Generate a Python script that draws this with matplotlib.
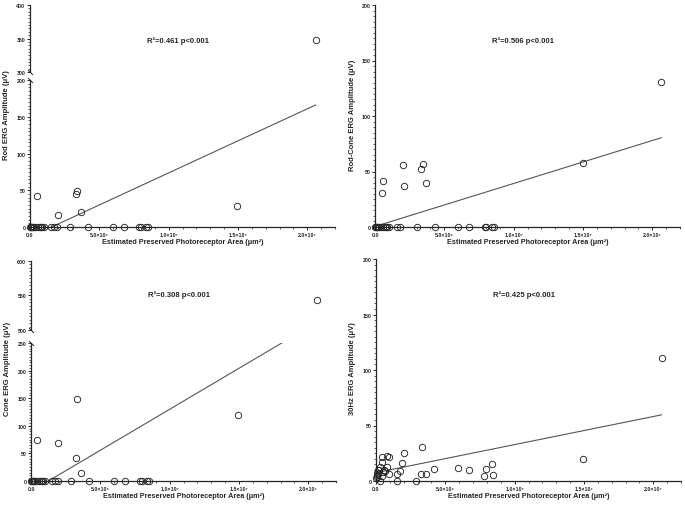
import numpy as np
import matplotlib.pyplot as plt
from matplotlib.ticker import MultipleLocator

plt.rcParams['font.family'] = ['Liberation Sans', 'DejaVu Sans']

# x values in units of 1e6 um^2, y values in uV
rod_x = [0.0, 0.05, 0.1, 0.15, 0.2, 0.3, 0.4, 0.6, 0.7, 0.8, 0.9, 1.0,
         1.55, 1.75, 1.95, 2.9, 4.2, 6.0, 6.75, 7.85, 8.0, 8.4, 8.5,
         0.53, 2.04, 3.3, 3.4, 3.65, 14.9, 20.6]
rod_y = [0, 0, 0, 0, 0, 0, 0, 0, 0, 0, 0, 0,
         0, 0, 0, 0, 0, 0, 0, 0, 0, 0, 0,
         42, 16, 45, 49, 21, 29, 348]

rodcone_x = [0.0, 0.05, 0.1, 0.15, 0.2, 0.3, 0.4, 0.6, 0.7, 0.8, 0.9, 1.0,
             1.6, 1.8, 3.0, 4.3, 6.0, 6.8, 7.9, 8.0, 8.45, 8.55,
             0.48, 0.55, 1.99, 2.11, 3.35, 3.45, 3.71, 15.0, 20.65]
rodcone_y = [0, 0, 0, 0, 0, 0, 0, 0, 0, 0, 0, 0,
             0, 0, 0, 0, 0, 0, 0, 0, 0, 0,
             31, 41, 56, 37, 52, 57, 40, 58, 131]

cone_x = [0.0, 0.05, 0.1, 0.15, 0.2, 0.3, 0.4, 0.6, 0.7, 0.8, 0.9, 1.0,
          1.55, 1.75, 1.95, 2.9, 4.2, 6.0, 6.75, 7.85, 8.0, 8.4, 8.5,
          0.46, 1.97, 3.25, 3.34, 3.58, 14.9, 20.6]
cone_y = [0, 0, 0, 0, 0, 0, 0, 0, 0, 0, 0, 0,
          0, 0, 0, 0, 0, 0, 0, 0, 0, 0, 0,
          75, 69, 42, 149, 15, 120, 544]

hz30_x = [20.6, 14.9, 3.35, 2.0, 1.9, 1.72, 1.53, 1.53, 2.92, 3.26, 3.64,
          4.19, 5.92, 6.7, 7.78, 7.9, 8.38, 8.45,
          0.45, 0.77, 0.93, 0.8, 0.93, 0.4, 0.29, 0.17, 0.05, 0.05, 0.1,
          0.29, 0.53, 0.65, 0.57, 0.0, 0.12, 0.4, 0.24]
hz30_y = [110.5, 20, 30.8, 25.4, 16.2, 9, 6, 0, 0, 6, 6.3,
          11, 11.7, 9.9, 4.2, 11, 15.6, 5.4,
          21.9, 22.5, 21.3, 13, 6.3, 17, 12.6, 9.6, 5, 7, 3.6,
          0, 8, 8.7, 9.9, 2.7, 6.3, 4.2, 9.6]

# regression lines: slope, intercept, fitted x range
rod_fit = (8.72, -13.6, 1.56, 20.6)
rodcone_fit = (3.87, 0.5, 0.0, 20.65)
cone_fit = (14.85, -18.6, 1.25, 20.6)
hz30_fit = (2.53, 7.5, 0.0, 20.6)

stats = ['R²=0.461 p<0.001', 'R²=0.506 p<0.001',
         'R²=0.308 p<0.001', 'R²=0.425 p<0.001']
ylabels = ['Rod ERG Amplitude (μV)', 'Rod-Cone ERG Amplitude (μV)',
           'Cone ERG Amplitude (μV)', '30Hz ERG Amplitude (μV)']
xlabel = 'Estimated Preserved Photoreceptor Area (μm²)'

x_ticks = [0, 5, 10, 15, 20]
x_ticklabels = ['0.0', '5.0×10⁶', '1.0×10⁷', '1.5×10⁷', '2.0×10⁷']

INK = '#262626'
W, H = 685, 506


def fx(px):
    return px / W


def fy(py):
    return 1 - py / H


def style_axis(ax, ylo, yhi, major, show_x=True):
    ax.set_facecolor('none')
    ax.set_xlim(0, 22)
    ax.set_ylim(ylo, yhi)
    ax.yaxis.set_major_locator(MultipleLocator(major))
    ax.yaxis.set_minor_locator(MultipleLocator(5))
    ax.spines['top'].set_visible(False)
    ax.spines['right'].set_visible(False)
    for s in ('left', 'bottom'):
        ax.spines[s].set_linewidth(0.9)
        ax.spines[s].set_color(INK)
    ax.tick_params(which='major', length=2.4, width=0.7, labelsize=3.8,
                   pad=1, colors=INK)
    ax.tick_params(which='minor', length=1.3, width=0.5, colors=INK)
    if show_x:
        ax.set_xticks(x_ticks)
        ax.set_xticklabels(x_ticklabels)
        ax.xaxis.set_minor_locator(MultipleLocator(1))
    else:
        ax.spines['bottom'].set_visible(False)
        ax.tick_params(axis='x', which='both', bottom=False, labelbottom=False)
    for lab in ax.get_xticklabels() + ax.get_yticklabels():
        lab.set_fontweight('bold')


def draw_points(ax, x, y, mask):
    x = np.asarray(x)[mask]
    y = np.asarray(y)[mask]
    ax.plot(x, y, 'o', ms=4.6, mfc='none', mec=INK, mew=0.65, clip_on=False,
            zorder=3)


def draw_fit(ax, fit):
    slope, icpt, x0, x1 = fit
    xs = np.array([x0, x1])
    ax.plot(xs, slope * xs + icpt, color='#555555', lw=0.8, zorder=2)


def break_mark(ax, ypos):
    ax.plot([0], [ypos], transform=ax.transAxes, marker=[(-1, 1), (1, -1)],
            ms=3.5, mew=0.7, color=INK, clip_on=False)


fig = plt.figure(figsize=(W / 100, H / 100), dpi=100)

# panel boxes in pixels: left edge, (y of 0, y of lower top), (y of upper bottom, y of upper top)
panels = [
    dict(x=rod_x, y=rod_y, fit=rod_fit, left=30, low=(228, 81), up=(73, 6),
         lim=(200, 300, 400), major=(50, 50)),
    dict(x=rodcone_x, y=rodcone_y, fit=rodcone_fit, left=375, low=(228, 6),
         up=None, lim=(200,), major=(50,)),
    dict(x=cone_x, y=cone_y, fit=cone_fit, left=31, low=(482, 344), up=(331, 262),
         lim=(250, 500, 600), major=(50, 50)),
    dict(x=hz30_x, y=hz30_y, fit=hz30_fit, left=376, low=(482, 260),
         up=None, lim=(200,), major=(50,)),
]

for i, p in enumerate(panels):
    left = fx(p['left'])
    width = 305 / W
    y0, ytop = p['low']
    ax = fig.add_axes([left, fy(y0), width, (y0 - ytop) / H])
    yarr = np.asarray(p['y'])
    style_axis(ax, 0, p['lim'][0], p['major'][0])
    draw_fit(ax, p['fit'])
    draw_points(ax, p['x'], p['y'], yarr <= p['lim'][0])
    if p['up'] is not None:
        ub, ut = p['up']
        axu = fig.add_axes([left, fy(ub), width, (ub - ut) / H])
        style_axis(axu, p['lim'][1], p['lim'][2], p['major'][1], show_x=False)
        draw_points(axu, p['x'], p['y'], yarr >= p['lim'][1])
        break_mark(axu, 0)
        break_mark(ax, 1)

    row_top = 6 if i < 2 else 260
    row_bot = 228 if i < 2 else 482
    cx = p['left'] + 305 / 2
    fig.text(fx(p['left'] + 148), fy(row_top + 35), stats[i], ha='center',
             va='center', fontsize=5.5, fontweight='bold', color=INK)
    fig.text(fx(p['left'] - 23), fy((row_top + row_bot) / 2 - 2), ylabels[i],
             rotation=90, ha='center', va='center', fontsize=5.5,
             fontweight='bold', color=INK)
    fig.text(fx(cx), fy(row_bot + 15), xlabel, ha='center', va='center',
             fontsize=5.2, fontweight='bold', color=INK)

fig.savefig('out.png', dpi=100)
